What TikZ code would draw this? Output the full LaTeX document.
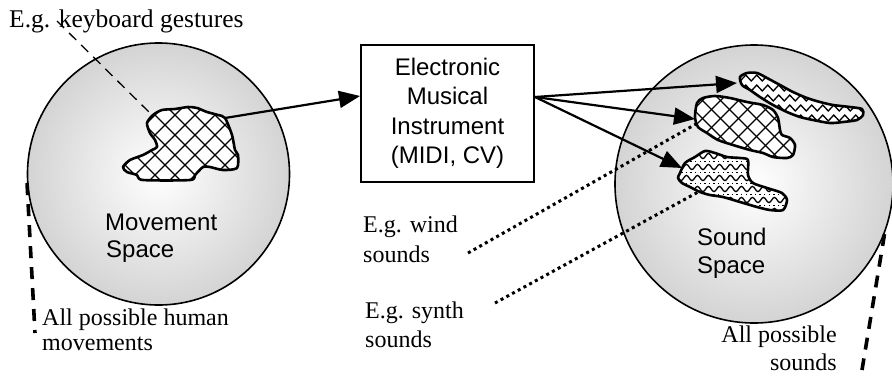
\documentclass[tikz,border=0pt]{standalone}
\usepackage{fontspec}
\setmainfont{Liberation Serif}
\newfontfamily\arialfont{Liberation Sans}
\usetikzlibrary{arrows.meta,decorations.pathmorphing,calc}
\begin{document}
\begin{tikzpicture}[x=1bp, y=-1bp,
  serif/.style={font=\fontsize{24bp}{29bp}\selectfont, inner sep=0pt},
  sans/.style={font=\arialfont\fontsize{24bp}{29bp}\selectfont, inner sep=0pt},
  spacenode/.style={circle, draw=black, line width=1.6bp, shade, inner color=white, outer color=black!17, minimum size=#1, inner sep=0pt},
  blobline/.style={draw=black, line width=2.6bp, line join=round},
  hatch/.style={line width=1.3bp},
  arr/.style={line width=2.2bp, -{Triangle[length=21bp,width=17bp]}},
  dotline/.style={line width=3bp, dash pattern=on 3bp off 3.5bp},
  thindash/.style={line width=1.3bp, dash pattern=on 10bp off 7bp},
  thickdash/.style={line width=3.6bp, dash pattern=on 12bp off 9bp},
  boxnode/.style={draw=black, line width=2bp, minimum width=173bp, minimum height=137bp, inner sep=0pt, align=center, font=\arialfont\fontsize{24bp}{29.5bp}\selectfont}
]
\useasboundingbox (0,0) rectangle (892,376);

% spaces
\node[spacenode=262bp] (move) at (158.5,174) {};
\node[spacenode=278bp] (sound) at (754,184) {};

% blob paths
\def\blobA{plot[smooth cycle, tension=0.45] coordinates {(153,115) (162,110) (175,109) (188,107) (197,108) (207,112) (218,115) (225,118) (232,135) (235,150) (238,155) (237,168) (223,170) (210,167) (203,167) (195,175) (190,180) (143,180) (137,175) (127,172) (123,167) (130,160) (143,155) (152,150) (157,147) (155,140) (150,133) (147,123)}}
\def\blobB{plot[smooth cycle, tension=0.45] coordinates {(740,77) (747,73) (757,73) (767,78) (780,85) (793,92) (807,98) (820,102) (833,105) (850,107) (862,109) (863,115) (857,120) (843,122) (830,123) (813,120) (800,117) (787,112) (773,105) (760,97) (750,90) (742,85)}}
\def\blobC{plot[smooth cycle, tension=0.45] coordinates {(697,103) (703,98) (715,96) (730,98) (747,102) (763,105) (773,110) (778,118) (780,130) (782,135) (790,138) (795,145) (793,155) (787,158) (773,157) (763,153) (750,150) (733,145) (718,140) (707,133) (698,127) (695,117)}}
\def\blobD{plot[smooth cycle, tension=0.45] coordinates {(680,173) (685,163) (695,157) (705,151) (715,153) (727,157) (740,158) (748,160) (748,175) (753,183) (767,188) (782,193) (787,200) (783,210) (770,210) (757,207) (740,202) (723,197) (710,195) (700,192) (690,187) (682,183) (678,178)}}

% movement blob: crosshatch
\fill[white] \blobA;
\begin{scope}
  \clip \blobA;
  \foreach \c in {-60,-40,...,140} \draw[hatch] (\c+90,90) -- ++(120,120);
  \foreach \c in {230,250,...,430} \draw[hatch] (\c-90,90) -- ++(-120,120);
\end{scope}
\draw[blobline] \blobA;

% sound blob: crosshatch (middle)
\fill[white] \blobC;
\begin{scope}
  \clip \blobC;
  \foreach \c in {530,548,...,710} \draw[hatch] (\c+90,90) -- ++(80,80);
  \foreach \c in {785,803,...,960} \draw[hatch] (\c-90,90) -- ++(-80,80);
\end{scope}
\draw[blobline] \blobC;

% sound blob: zigzag (top)
\fill[white] \blobB;
\begin{scope}
  \clip \blobB;
  \foreach \yy in {78,88,...,128} \draw[hatch, decorate, decoration={zigzag, segment length=11bp, amplitude=3bp}] (732,\yy) -- (872,\yy);
\end{scope}
\draw[blobline] \blobB;

% sound blob: waves and dots (bottom)
\fill[white] \blobD;
\begin{scope}
  \clip \blobD;
  \foreach \yy in {156,167,...,215} \draw[hatch, decorate, decoration={snake, segment length=11bp, amplitude=2.6bp}] (672,\yy) -- (795,\yy);
  \foreach \yy in {161.5,172.5,...,215} \draw[hatch, dash pattern=on 1.4bp off 3.2bp] (672,\yy) -- (795,\yy);
\end{scope}
\draw[blobline] \blobD;

% instrument box
\node[boxnode, fill=white] (emi) at (447.5,113.5) {Electronic\\Musical\\Instrument\\(MIDI, CV)};

% labels
\node[serif, font=\fontsize{25.5bp}{29bp}\selectfont, anchor=base west] (kbd) at (9,27) {E.g. keyboard gestures};
\node[sans, anchor=base west] (mv1) at (105,230) {Movement};
\node[sans, anchor=base west] (mv2) at (106,257) {Space};
\node[serif, anchor=base west] (hum1) at (42,325) {All possible human};
\node[serif, anchor=base west] (hum2) at (42,350) {movements};
\node[serif, anchor=base west] (wind1) at (363,232) {E.g. wind};
\node[serif, anchor=base west] (wind2) at (363,262) {sounds};
\node[serif, anchor=base west] (syn1) at (365,318) {E.g. synth};
\node[serif, anchor=base west] (syn2) at (365,347) {sounds};
\node[sans, anchor=base west] (sd1) at (697,245) {Sound};
\node[sans, anchor=base west] (sd2) at (697,273) {Space};
\node[serif, anchor=base east] (all1) at (837,342) {All possible};
\node[serif, anchor=base east] (all2) at (837,370) {sounds};

% connector end points
\coordinate (kbdstart) at (57,21);
\coordinate (blobAin) at (151,114);
\coordinate (blobAout) at (225,118);
\coordinate (tipB) at (737,83);
\coordinate (tipC) at (695,119);
\coordinate (tipD) at (682,168);
\coordinate (windstart) at (468,253);
\coordinate (windend) at (696,124);
\coordinate (synstart) at (495,303);
\coordinate (synend) at (700,191);
\coordinate (humend) at (35,333);
\coordinate (allend) at (862,370);

% connectors
\draw[thindash] (kbdstart) -- (blobAin);
\draw[thickdash] (move.184) -- (humend);
\draw[thickdash] (sound.-21) -- (allend);
\draw[arr] (blobAout) -- ([yshift=17.5bp]emi.west);
\draw[arr] ([yshift=16.5bp]emi.east) -- (tipB);
\draw[arr] ([yshift=16.5bp]emi.east) -- (tipC);
\draw[arr] ([yshift=16.5bp]emi.east) -- (tipD);
\draw[dotline] (windstart) -- (windend);
\draw[dotline] (synstart) -- (synend);
\end{tikzpicture}
\end{document}
